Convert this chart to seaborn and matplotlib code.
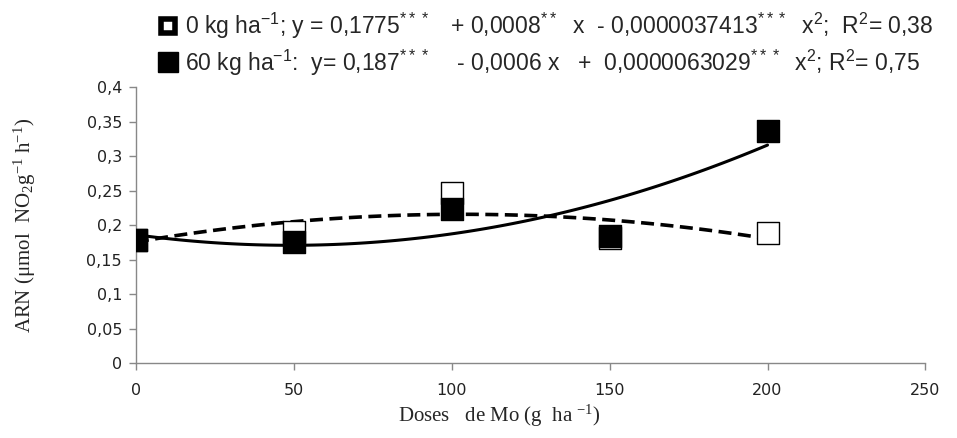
import matplotlib
matplotlib.use("Agg")
import matplotlib.pyplot as plt
import seaborn as sns
import pandas as pd
from matplotlib.lines import Line2D

# Mo doses (g ha-1) and nitrate reductase activity
doses = [0, 50, 100, 150, 200]
arn_0kg = [0.178, 0.190, 0.246, 0.182, 0.188]
arn_60kg = [0.178, 0.175, 0.223, 0.184, 0.336]

x_ticks = [0, 50, 100, 150, 200, 250]
y_ticks = [0, 0.05, 0.1, 0.15, 0.2, 0.25, 0.3, 0.35, 0.4]

label_0kg = (r"0 kg ha$^{-1}$; y = 0,1775$^{***}$   + 0,0008$^{**}$  x  - "
             r"0,0000037413$^{***}$  x$^{2}$;  R$^{2}$= 0,38")
label_60kg = (r"60 kg ha$^{-1}$:  y= 0,187$^{***}$    - 0,0006 x   +  "
              r"0,0000063029$^{***}$  x$^{2}$; R$^{2}$= 0,75")

df = pd.DataFrame({"dose": doses, "zero": arn_0kg, "sixty": arn_60kg})

sns.set_style("white")
plt.rcParams["font.family"] = ["DejaVu Sans"]
plt.rcParams["mathtext.default"] = "regular"

fig = plt.figure(figsize=(9.57, 4.38), dpi=100)
ax = fig.add_axes([0.142, 0.171, 0.825, 0.630])

# quadratic trend lines fitted by seaborn
sns.regplot(data=df, x="dose", y="zero", order=2, ci=None, scatter=False, ax=ax,
            line_kws=dict(color="black", lw=2.6, ls=(0, (3.6, 1.8))))
sns.regplot(data=df, x="dose", y="sixty", order=2, ci=None, scatter=False, ax=ax,
            line_kws=dict(color="black", lw=2.2))

sns.scatterplot(data=df, x="dose", y="zero", marker="s", s=270, color="white",
                edgecolor="black", linewidth=1.0, ax=ax, zorder=3)
sns.scatterplot(data=df, x="dose", y="sixty", marker="s", s=270, color="black",
                edgecolor="black", linewidth=1.0, ax=ax, zorder=4)

ax.set_xlim(0, 250)
ax.set_ylim(0, 0.4)
ax.set_xticks(x_ticks)
ax.set_yticks(y_ticks)
ax.set_xticklabels([str(t) for t in x_ticks], fontsize=11.5, color="#222222")
ax.set_yticklabels([("%g" % t).replace(".", ",") for t in y_ticks], fontsize=11.5,
                   color="#222222")
ax.tick_params(axis="y", direction="out", length=5, width=1, color="#888888",
               left=True, pad=5)
ax.tick_params(axis="x", direction="out", length=5, width=1, color="#888888",
               bottom=True, pad=9)
for side in ["top", "right"]:
    ax.spines[side].set_visible(False)
for side in ["left", "bottom"]:
    ax.spines[side].set_color("#888888")
    ax.spines[side].set_linewidth(1)

ax.set_xlabel(r"Doses   de Mo (g  ha $^{-1}$)", family="Liberation Serif",
              fontsize=15)
ax.set_ylabel(r"ARN ($\mu$mol  NO$_{2}$g$^{-1}$ h$^{-1}$)", family="Liberation Serif",
              fontsize=15, labelpad=35)
ax.xaxis.set_label_coords(0.461, -0.145)

handles = [
    Line2D([], [], marker="s", ls="", markersize=9.5, markerfacecolor="white",
           markeredgecolor="black", markeredgewidth=4),
    Line2D([], [], marker="s", ls="", markersize=14.5, markerfacecolor="black",
           markeredgecolor="black"),
]
fig.legend(handles, [label_0kg, label_60kg], loc="upper left",
           bbox_to_anchor=(0.148, 1.012), frameon=False, handlelength=0.9,
           handletextpad=0.3, labelspacing=0.28, borderaxespad=0.3,
           prop=dict(family="Liberation Sans", size=16.5))

fig.savefig("out.png", dpi=100)
